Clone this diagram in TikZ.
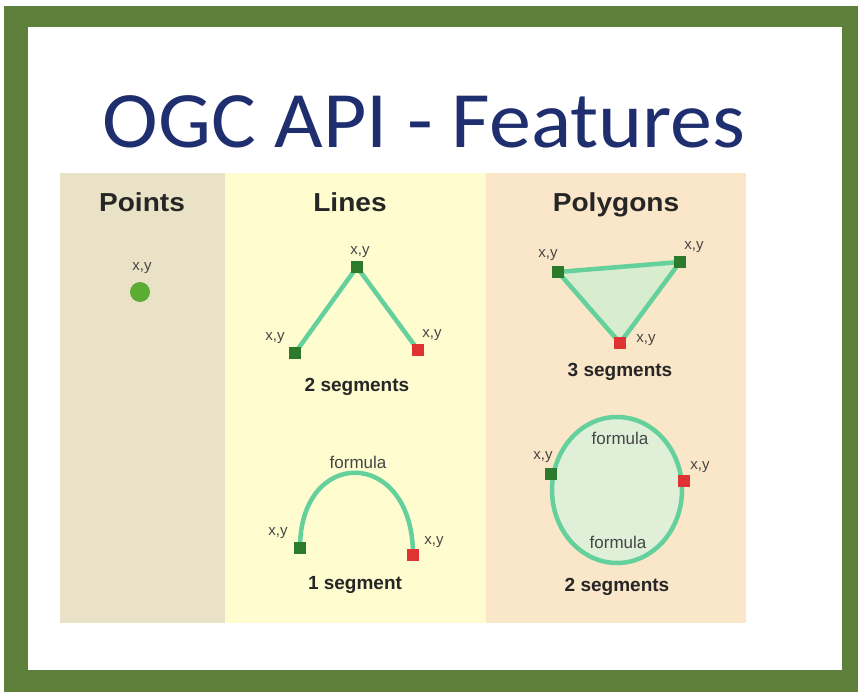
\documentclass[tikz,border=0pt]{standalone}
\usepackage{fontspec}
\usepackage{graphicx}
\setmainfont{Liberation Sans}
\newfontfamily\titlefont{Carlito}
\usetikzlibrary{shapes.geometric}

\definecolor{framegreen}{RGB}{94,128,58}
\definecolor{titleblue}{RGB}{30,46,110}
\definecolor{pointsbg}{RGB}{234,226,198}
\definecolor{linesbg}{RGB}{255,252,208}
\definecolor{polybg}{RGB}{250,230,200}
\definecolor{mint}{RGB}{100,208,156}
\definecolor{mintfill}{RGB}{216,236,206}
\definecolor{vgreen}{RGB}{44,122,44}
\definecolor{vred}{RGB}{224,50,50}
\definecolor{dotgreen}{RGB}{92,172,52}
\definecolor{labelgray}{RGB}{70,70,70}

\tikzset{
  header/.style={font=\bfseries\fontsize{26}{30}\selectfont, text=black!85, inner sep=0pt, anchor=base},
  caption/.style={font=\bfseries\fontsize{19}{22}\selectfont, text=black!85, inner sep=0pt},
  coord/.style={font=\fontsize{15}{18}\selectfont, text=labelgray, inner sep=0pt},
  formula/.style={font=\fontsize{17}{20}\selectfont, text=labelgray, inner sep=0pt},
  startpt/.style={rectangle, fill=vgreen, minimum size=12pt, inner sep=0pt},
  endpt/.style={rectangle, fill=vred, minimum size=12pt, inner sep=0pt},
  seg/.style={draw=mint, line width=4.5pt, line join=round}
}

\begin{document}
\begin{tikzpicture}[x=1pt,y=-1pt]
  \useasboundingbox (0,0) rectangle (862,698);
  \fill[white] (0,0) rectangle (862,698);

  % frame
  \fill[framegreen] (4,6) rectangle (858,692);
  \fill[white] (28,27) rectangle (842,670);

  % title
  \node[font=\titlefont\fontsize{80}{90}\selectfont, text=titleblue, inner sep=0pt, anchor=base] (title) at (424,148) {\scalebox{1.05}[1]{OGC API - Features}};

  % column backgrounds
  \fill[pointsbg] (60,173) rectangle (225,623);
  \fill[linesbg] (225,173) rectangle (486,623);
  \fill[polybg] (486,173) rectangle (746,623);

  % headers
  \node[header] (hpoints) at (142,211) {\scalebox{1.08}[1]{Points}};
  \node[header] (hlines) at (350,211) {\scalebox{1.08}[1]{Lines}};
  \node[header] (hpolys) at (616,211) {\scalebox{1.08}[1]{Polygons}};

  % ---- point
  \node[circle, fill=dotgreen, minimum size=20pt, inner sep=0pt] (pt) at (140,292) {};
  \node[coord] (ptl) at (142,268) {x,y};

  % ---- two-segment line
  \node[startpt] (la) at (295,353) {};
  \node[startpt] (lb) at (357,267) {};
  \node[endpt] (lc) at (418,350) {};
  \draw[seg] (la.center) -- (lb.center) -- (lc.center);
  \node[startpt] at (la) {};
  \node[startpt] at (lb) {};
  \node[endpt] at (lc) {};
  \node[coord] (lal) at (275,338) {x,y};
  \node[coord] (lbl) at (360,252) {x,y};
  \node[coord] (lcl) at (432,335) {x,y};
  \node[caption] (lcap) at (357,387) {2 segments};

  % ---- one-segment arc
  \node[startpt] (aa) at (300,548) {};
  \node[endpt] (ab) at (413,555) {};
  \draw[seg] (aa.center) .. controls +(0,-102) and +(0,-108) .. (ab.center);
  \node[startpt] at (aa) {};
  \node[endpt] at (ab) {};
  \node[formula] (af) at (358,462) {formula};
  \node[coord] (aal) at (278,533) {x,y};
  \node[coord] (abl) at (434,542) {x,y};
  \node[caption] (acap) at (355,585) {1 segment};

  % ---- triangle polygon
  \node[startpt] (ta) at (558,272) {};
  \node[startpt] (tb) at (680,262) {};
  \node[endpt] (tc) at (620,343) {};
  \draw[seg, fill=mintfill] (ta.center) -- (tb.center) -- (tc.center) -- cycle;
  \node[startpt] at (ta) {};
  \node[startpt] at (tb) {};
  \node[endpt] at (tc) {};
  \node[coord] (tal) at (548,255) {x,y};
  \node[coord] (tbl) at (694,247) {x,y};
  \node[coord] (tcl) at (646,340) {x,y};
  \node[caption] (tcap) at (620,372) {3 segments};

  % ---- ring polygon
  \node[ellipse, draw=mint, line width=4.5pt, fill=mintfill!80!white, minimum width=130pt, minimum height=146pt, inner sep=0pt] (ring) at (617,490) {};
  \node[startpt] (ra) at (ring.166) {};
  \node[endpt] (rb) at (ring.8) {};
  \node[formula] (rf1) at (620,438) {formula};
  \node[formula] (rf2) at (618,542) {formula};
  \node[coord] (ral) at (543,457) {x,y};
  \node[coord] (rbl) at (700,467) {x,y};
  \node[caption] (rcap) at (617,587) {2 segments};
\end{tikzpicture}
\end{document}
